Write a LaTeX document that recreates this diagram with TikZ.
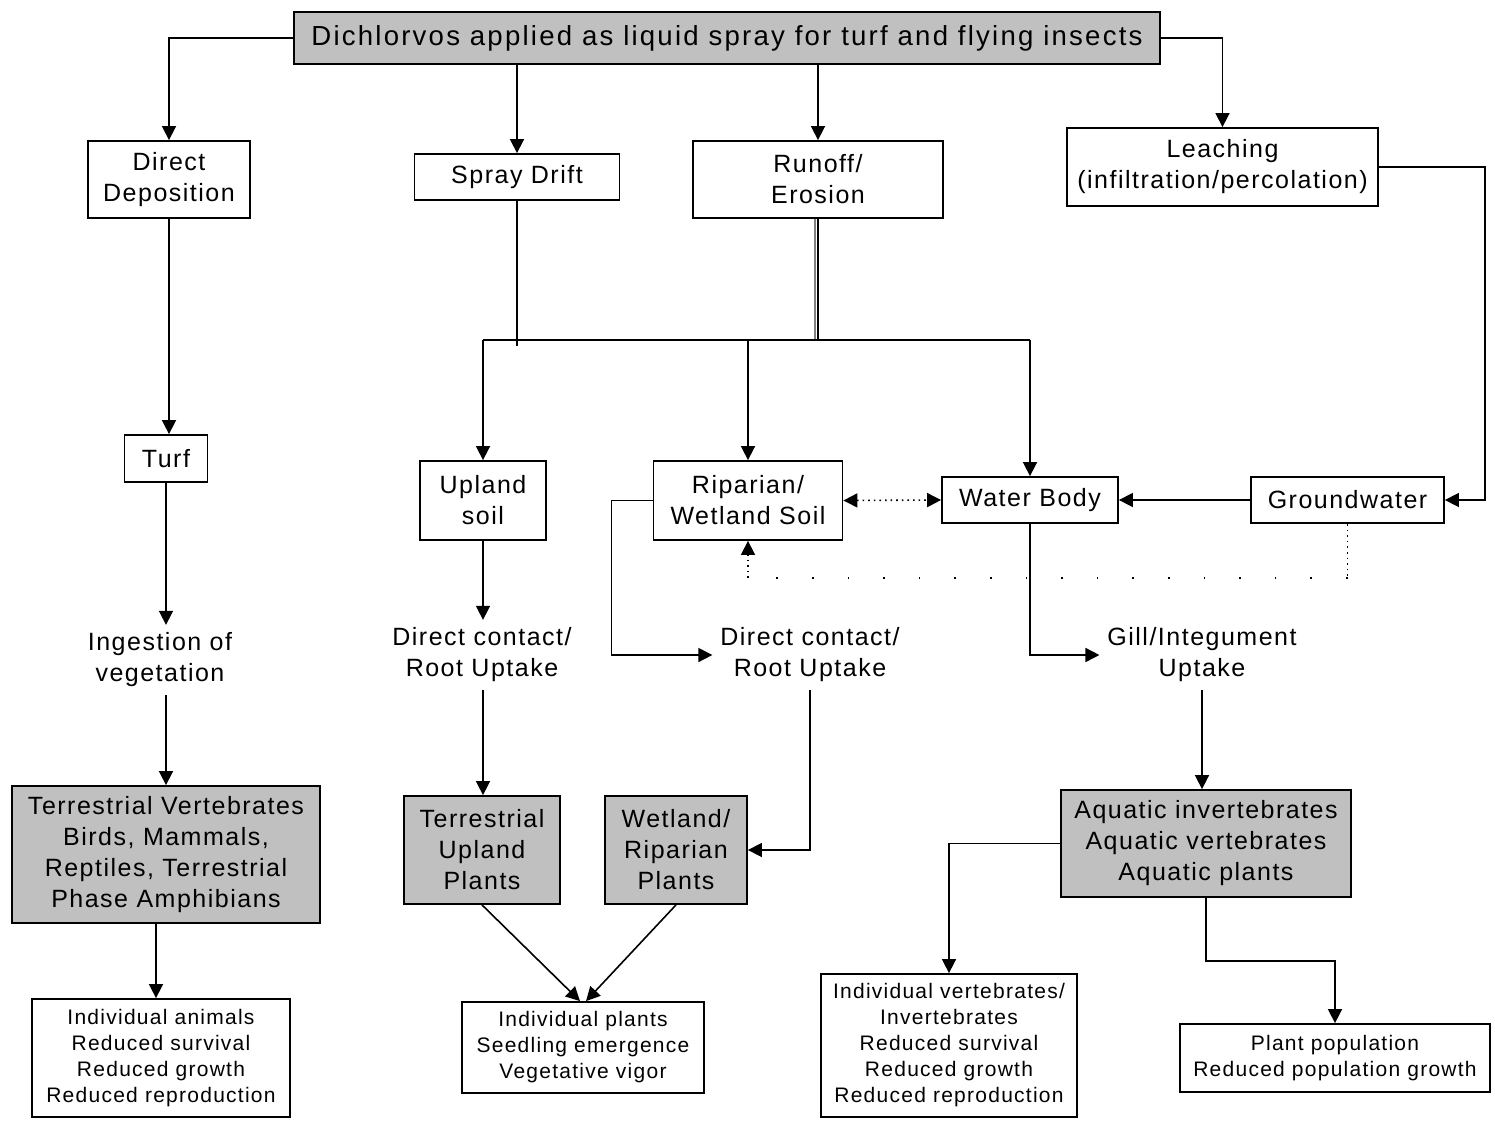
\documentclass[tikz,border=0pt]{standalone}
\usepackage{fontspec}
\setmainfont{Liberation Sans}
\newfontfamily\dfont[LetterSpace=6]{Liberation Sans}
\newfontfamily\tfont[LetterSpace=8]{Liberation Sans}
\newcommand\mainsz{\dfont\fontsize{12.5}{15.5}\selectfont}
\newcommand\titlesz{\tfont\fontsize{13.8}{16}\selectfont}
\newcommand\smallsz{\dfont\fontsize{10.5}{13}\selectfont}
\usetikzlibrary{arrows.meta}
\definecolor{boxgray}{HTML}{C0C0C0}
\begin{document}
\begin{tikzpicture}[x=0.5pt,y=-0.5pt,
  >={Triangle[length=7pt,width=7pt]},
  line width=0.8pt,
  box/.style={draw, line width=0.9pt, align=center, inner sep=0pt, font=\mainsz},
  greybox/.style={box, fill=boxgray},
  smallbox/.style={box, font=\smallsz},
  sz/.style 2 args={minimum width=#1*0.5pt, minimum height=#2*0.5pt},
  lbl/.style={align=center, inner sep=0pt, outer sep=4pt, font=\mainsz},
  sparse/.style={dash pattern=on 0.8pt off 17pt, line width=0.8pt}]

\useasboundingbox (0,0) rectangle (1495,1120);

% boxes
\node[greybox, sz={866}{52}, font=\titlesz] (top) at (727,38) {Dichlorvos applied as liquid spray for turf and flying insects};
\node[box, sz={162}{77}] (dd) at (169,179.5) {Direct\\Deposition};
\node[box, sz={205}{46}] (sd) at (517,177) {Spray Drift};
\node[box, sz={250}{77}] (ro) at (818,179.5) {Runoff/\\Erosion};
\node[box, sz={311}{78}] (le) at (1222.5,167) {Leaching\\(infiltration/percolation)};
\node[box, sz={83}{47}] (turf) at (166,458.5) {Turf};
\node[box, sz={126}{79}] (us) at (483,500.5) {Upland\\soil};
\node[box, sz={189}{79}] (rs) at (748,500.5) {Riparian/\\Wetland Soil};
\node[box, sz={176}{46}] (wb) at (1030,500) {Water Body};
\node[box, sz={193}{46}] (gw) at (1347.5,500) {Groundwater};

\node[lbl] (ing) at (160,660) {Ingestion of\\vegetation};
\node[lbl] (dc1) at (482,655) {Direct contact/\\Root Uptake};
\node[lbl] (dc2) at (810,655) {Direct contact/\\Root Uptake};
\node[lbl] (gill) at (1202,655) {Gill/Integument\\Uptake};

\node[greybox, sz={308}{137}] (tv) at (166,854.5) {Terrestrial Vertebrates\\Birds, Mammals,\\Reptiles, Terrestrial\\Phase Amphibians};
\node[greybox, sz={156}{108}] (tup) at (482,850) {Terrestrial\\Upland\\Plants};
\node[greybox, sz={142}{108}] (wrp) at (676,850) {Wetland/\\Riparian\\Plants};
\node[greybox, sz={290}{107}] (aq) at (1206,843.5) {Aquatic invertebrates\\Aquatic vertebrates\\Aquatic plants};

\node[smallbox, sz={258}{118}] (ia) at (161,1058) {Individual animals\\Reduced survival\\Reduced growth\\Reduced reproduction};
\node[smallbox, sz={242}{91}] (ip) at (583,1047.5) {Individual plants\\Seedling emergence\\Vegetative vigor};
\node[smallbox, sz={256}{143}] (iv) at (949,1045.5) {Individual vertebrates/\\Invertebrates\\Reduced survival\\Reduced growth\\Reduced reproduction};
\node[smallbox, sz={310}{68}] (pp) at (1335,1058) {Plant population\\Reduced population growth};

\coordinate (hb) at (0,340);
\coordinate (dl) at (0,578);
\coordinate (lr) at (1485,0);

% connectors from top
\draw[->] (top.west) -| (dd.north);
\draw[->] (top.south -| sd.north) -- (sd.north);
\draw[->] (top.south -| ro.north) -- (ro.north);
\draw[->] (top.east) -| (le.north);

% left column
\draw[->] (dd.south) -- (dd.south |- turf.north);
\draw[->] (turf.south) -- (turf.south |- ing.north);
\draw[->] (turf.south |- ing.south) -- (turf.south |- tv.north);
\draw[->] ([xshift=-5pt]tv.south) -- ([xshift=-2.5pt]ia.north);

% spray drift & runoff to junction
\draw (sd.south) -- ++(0,145);
\draw[draw=gray] ([xshift=-1.5pt]ro.south) -- ([xshift=-1.5pt]ro.south |- hb);
\draw[line width=1.1pt] (ro.south) -- (ro.south |- hb);
\draw (us.north |- hb) -- (wb.north |- hb);
\draw[->] (us.north |- hb) -- (us.north);
\draw[->] (rs.north |- hb) -- (rs.north);
\draw[->] (wb.north |- hb) -- (wb.north);

% leaching to groundwater
\draw[->] (le.east) -- (le.east -| lr) |- (gw.east);
\draw[->] (gw.west) -- (wb.east);
\draw[<->, dotted, line width=0.8pt] (rs.east) -- (wb.west);

% groundwater dotted return
\draw[dotted, line width=0.8pt] (gw.south) -- (gw.south |- dl);
\draw[sparse] (gw.south |- dl) -- (rs.south |- dl);
\draw[->, dotted, line width=0.8pt] (rs.south |- dl) -- (rs.south);

% soils to uptake
\draw[->] (us.south) -- (us.south |- dc1.north);
\draw[->] (us.south |- dc1.south) -- (us.south |- tup.north);
\draw[->] (rs.west) -- ++(-41,0) |- (dc2.west);
\draw[->] (dc2.south) |- (wrp.east);
\draw[->] (wb.south) |- (gill.west);
\draw[->] (gill.south) -- (gill.south |- aq.north);

% outcomes
\draw[->] (aq.west) -| (iv.north);
\draw[->] (aq.south) -- ++(0,63) -| (pp.north);
\draw[->] (tup.south) -- ([xshift=-1.5pt]ip.north);
\draw[->] (wrp.south) -- ([xshift=1.5pt]ip.north);
\end{tikzpicture}
\end{document}
